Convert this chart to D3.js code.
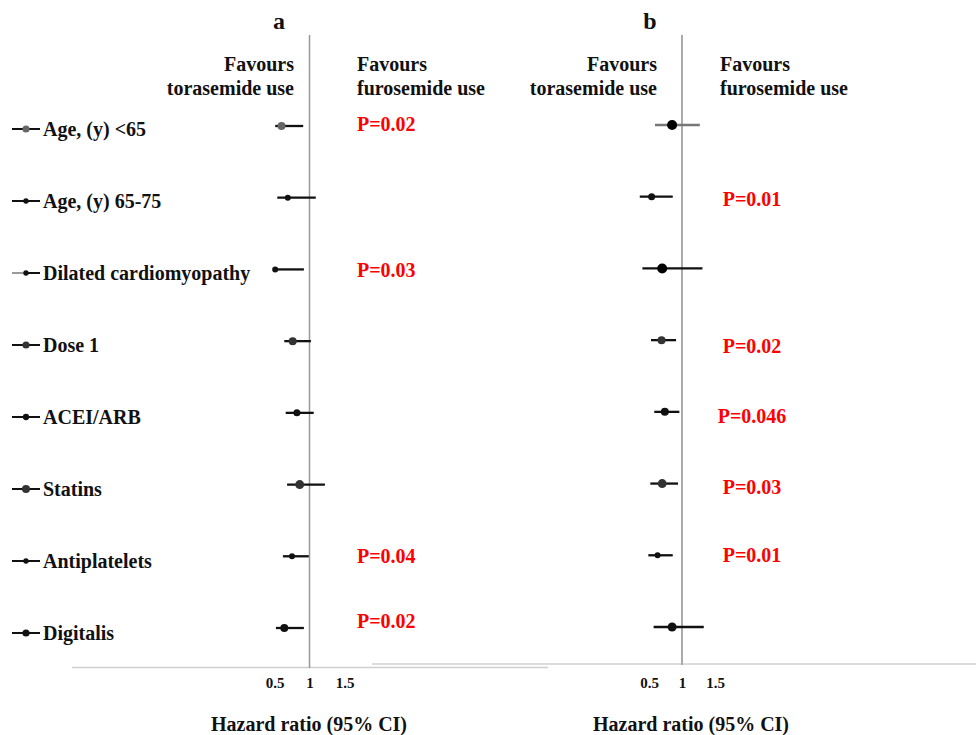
<!DOCTYPE html>
<html>
<head>
<meta charset="utf-8">
<script src="https://cdn.jsdelivr.net/npm/d3@7/dist/d3.min.js"></script>
<style>
  html, body { margin: 0; padding: 0; background: #fff; }
  svg { display: block; }
  text { font-family: "Liberation Serif", "Times New Roman", serif; font-weight: bold; }
</style>
</head>
<body>
<div id="chart"></div>
<script>
// ---------------- data ----------------
const categories = ["Age, (y) <65", "Age, (y) 65-75", "Dilated cardiomyopathy", "Dose 1",
                    "ACEI/ARB", "Statins", "Antiplatelets", "Digitalis"];
// Panel a hazard ratios (95% CI)
const hrA = [0.60, 0.69, 0.51, 0.76, 0.82, 0.86, 0.75, 0.64];
const loA = [0.51, 0.54, 0.49, 0.64, 0.66, 0.68, 0.62, 0.52];
const hiA = [0.91, 1.09, 0.92, 1.02, 1.06, 1.22, 0.99, 0.92];
// Panel b hazard ratios (95% CI)
const hrB = [0.85, 0.54, 0.70, 0.69, 0.74, 0.70, 0.63, 0.85];
const loB = [0.59, 0.36, 0.40, 0.53, 0.58, 0.52, 0.49, 0.57];
const hiB = [1.27, 0.86, 1.31, 0.91, 0.96, 0.94, 0.86, 1.33];
// P-values
const pA = ["P=0.02", "", "P=0.03", "", "", "", "P=0.04", "P=0.02"];
const pB = ["", "P=0.01", "", "P=0.02", "P=0.046", "P=0.03", "P=0.01", ""];
const tickValues = [0.5, 1, 1.5];
const tickLabels = ["0.5", "1", "1.5"];
const panelLetters = ["a", "b"];
const leftHeader = ["Favours", "torasemide use"];
const rightHeader = ["Favours", "furosemide use"];
const axisTitle = "Hazard ratio (95% CI)";

// ---------------- styles ----------------
const dotColorA = ["#666", "#111", "#111", "#333", "#111", "#333", "#111", "#111"];
const dotRadiusA = [4, 3, 3, 4, 3.5, 4.5, 3, 4];
const dotColorB = ["#000", "#111", "#000", "#333", "#111", "#333", "#111", "#111"];
const dotRadiusB = [5, 3.5, 5, 4, 4, 4.5, 3, 4.5];
const lineColorB = ["#777", "#111", "#111", "#111", "#111", "#111", "#111", "#111"];

const W = 976, H = 735;
const svg = d3.select("#chart").append("svg").attr("width", W).attr("height", H);

const yLegend = d3.scalePoint().domain(categories).range([129, 633]);
const yA = d3.scalePoint().domain(categories).range([126, 628]);
const yB = d3.scalePoint().domain(categories).range([125, 627]);

const xA = d3.scaleLinear().domain([0.5, 1.5]).range([274.5, 344.5]);
const xB = d3.scaleLinear().domain([0.5, 1.5]).range([649, 715]);

// baselines
svg.append("line").attr("x1", 72).attr("x2", 548).attr("y1", 667.5).attr("y2", 667.5)
  .attr("stroke", "#d0d0d0").attr("stroke-width", 1.5);
svg.append("line").attr("x1", 372).attr("x2", 976).attr("y1", 664).attr("y2", 664)
  .attr("stroke", "#d0d0d0").attr("stroke-width", 1.5);

// legend rows
const leg = svg.append("g");
categories.forEach((c, i) => {
  const y = yLegend(c);
  leg.append("line").attr("x1", 12).attr("x2", 40).attr("y1", y).attr("y2", y)
    .attr("stroke", i === 2 ? "#999" : "#111").attr("stroke-width", 2);
  if (i === 2) {
    leg.append("line").attr("x1", 26).attr("x2", 40).attr("y1", y).attr("y2", y)
      .attr("stroke", "#111").attr("stroke-width", 2);
  }
  leg.append("circle").attr("cx", 26).attr("cy", y).attr("r", dotRadiusA[i] * 0.9)
    .attr("fill", dotColorA[i]);
  leg.append("text").attr("x", 43).attr("y", y).attr("dy", "0.35em")
    .attr("font-size", 20).attr("fill", "#111").text(c);
});

function panel(x, y, hr, lo, hi, pv, dotColor, dotR, lineColor, cfg) {
  const g = svg.append("g");
  // reference line
  g.append("line").attr("x1", x(1)).attr("x2", x(1)).attr("y1", 35).attr("y2", cfg.refBottom)
    .attr("stroke", cfg.refColor).attr("stroke-width", cfg.refWidth);
  // letter
  g.append("text").attr("x", cfg.letterX).attr("y", 29).attr("text-anchor", "middle")
    .attr("font-size", 24).attr("fill", "#111").text(cfg.letter);
  // headers
  leftHeader.forEach((t, k) => {
    g.append("text").attr("x", cfg.leftHdrX).attr("y", 71 + k * 24).attr("text-anchor", "end")
      .attr("font-size", 20).attr("fill", "#111").text(t);
  });
  rightHeader.forEach((t, k) => {
    g.append("text").attr("x", cfg.rightHdrX).attr("y", 71 + k * 24).attr("text-anchor", "start")
      .attr("font-size", 20).attr("fill", "#111").text(t);
  });
  // CI lines
  g.selectAll("line.ci").data(categories).enter().append("line").attr("class", "ci")
    .attr("x1", (d, i) => x(lo[i])).attr("x2", (d, i) => x(hi[i]))
    .attr("y1", d => y(d)).attr("y2", d => y(d))
    .attr("stroke", (d, i) => lineColor[i]).attr("stroke-width", 2.3);
  // dots
  g.selectAll("circle.pt").data(categories).enter().append("circle").attr("class", "pt")
    .attr("cx", (d, i) => x(hr[i])).attr("cy", d => y(d))
    .attr("r", (d, i) => dotR[i]).attr("fill", (d, i) => dotColor[i]);
  // p-values
  g.selectAll("text.p").data(categories).enter().append("text").attr("class", "p")
    .attr("x", cfg.pX).attr("y", (d, i) => y(d) + cfg.pDy[i]).attr("dy", "0.35em")
    .attr("text-anchor", cfg.pAnchor)
    .attr("font-size", 20).attr("fill", "#ff0000").text((d, i) => pv[i]);
  // axis tick labels
  const ax = d3.axisBottom(x).tickValues(tickValues).tickSize(0)
    .tickFormat((d, i) => tickLabels[i]);
  const axG = g.append("g").attr("transform", `translate(0,${cfg.axisY})`).call(ax);
  axG.select(".domain").remove();
  axG.selectAll("text").attr("font-size", 15).attr("fill", "#111")
    .attr("font-family", "Liberation Serif, Times New Roman, serif").attr("font-weight", "bold");
  // axis title
  g.append("text").attr("x", cfg.titleX).attr("y", 731).attr("text-anchor", "middle")
    .attr("font-size", 20).attr("fill", "#111").text(axisTitle);
}

panel(xA, yA, hrA, loA, hiA, pA, dotColorA, dotRadiusA, categories.map(() => "#111"), {
  refBottom: 668, refColor: "#999", refWidth: 1.5, letter: panelLetters[0], letterX: 279,
  leftHdrX: 294, rightHdrX: 357, pX: 357, pAnchor: "start", pDy: [-2, 0, 1, 0, 0, 0, 0, -7],
  axisY: 674, titleX: 309
});
panel(xB, yB, hrB, loB, hiB, pB, dotColorB, dotRadiusB, lineColorB, {
  refBottom: 665, refColor: "#aaa", refWidth: 2, letter: panelLetters[1], letterX: 650,
  leftHdrX: 657, rightHdrX: 720, pX: 752, pAnchor: "middle", pDy: [0, 2, 0, 6, 4, 3, 0, 0],
  axisY: 674, titleX: 691
});
</script>
</body>
</html>
